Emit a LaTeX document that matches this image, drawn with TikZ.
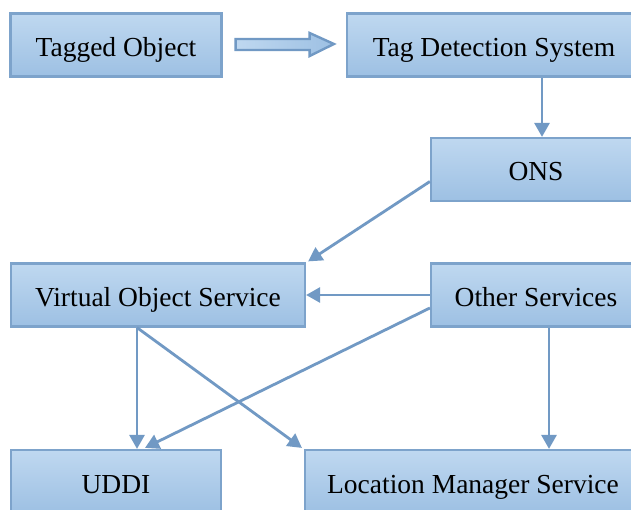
\documentclass[tikz,border=0pt]{standalone}
\usepackage{fontspec}
\setmainfont{Liberation Serif}
\usetikzlibrary{calc,arrows.meta}
\definecolor{boxtop}{HTML}{BFD8F0}
\definecolor{boxbot}{HTML}{9DC0E3}
\definecolor{boxline}{HTML}{7DA3CB}
\definecolor{arr}{HTML}{7199C4}
\tikzset{
  box/.style={draw=boxline, line width=2.2pt, top color=boxtop, bottom color=boxbot,
    minimum height=63pt, inner sep=0pt, text height=27pt, text depth=4pt,
    font=\fontsize{27.5}{30}\selectfont, text=black},
  conn/.style={draw=arr, line width=2.8pt, -{Triangle[length=14pt,width=15pt]}},
}
\begin{document}
\begin{tikzpicture}[x=1pt,y=-1pt]
\useasboundingbox (0,0) rectangle (631,510);
\clip (0,0) rectangle (631,510);
\fill[white] (0,0) rectangle (631,510);
\node[box, minimum width=211pt] (tagged) at (116,45) {Tagged Object};
\node[box, minimum width=294pt] (tds) at (494,45) {Tag Detection System};
\node[box, minimum width=210pt] (ons) at (536,169.5) {ONS};
\node[box, minimum width=294pt] (vos) at (158,295) {Virtual Object Service};
\node[box, minimum width=210pt] (other) at (536,295) {Other Services};
\node[box, minimum width=210pt] (uddi) at (116,481.5) {UDDI};
\node[box, minimum width=336pt] (lms) at (473,481.5) {Location Manager Service};
% block arrow
\filldraw[draw=arr, line width=2.4pt, left color=boxtop, right color=boxbot]
  ($(tagged.east)+(13,-6)$) -- ($(tagged.east)+(87,-6)$) -- ($(tagged.east)+(87,-12)$)
  -- ($(tds.west)+(-12,-1)$) -- ($(tagged.east)+(87,11)$) -- ($(tagged.east)+(87,5)$)
  -- ($(tagged.east)+(13,5)$) -- cycle;
\draw[conn] ($(tds.south)+(48,0)$) -- ($(ons.north)+(6,0)$);
\draw[conn] ($(ons.west)+(0,12)$) -- ($(vos.north east)+(2,-1)$);
\draw[conn] (other.west) -- (vos.east);
\draw[conn] ($(vos.south)+(-21,0)$) -- ($(uddi.north)+(21,0)$);
\draw[conn] ($(vos.south)+(-21,0)$) -- ($(lms.north west)+(-2,-1)$);
\draw[conn] ($(other.west)+(0,13)$) -- ($(uddi.north)+(29,-1)$);
\draw[conn] ($(other.south)+(13,0)$) -- ($(lms.north)+(76,0)$);
\end{tikzpicture}
\end{document}
